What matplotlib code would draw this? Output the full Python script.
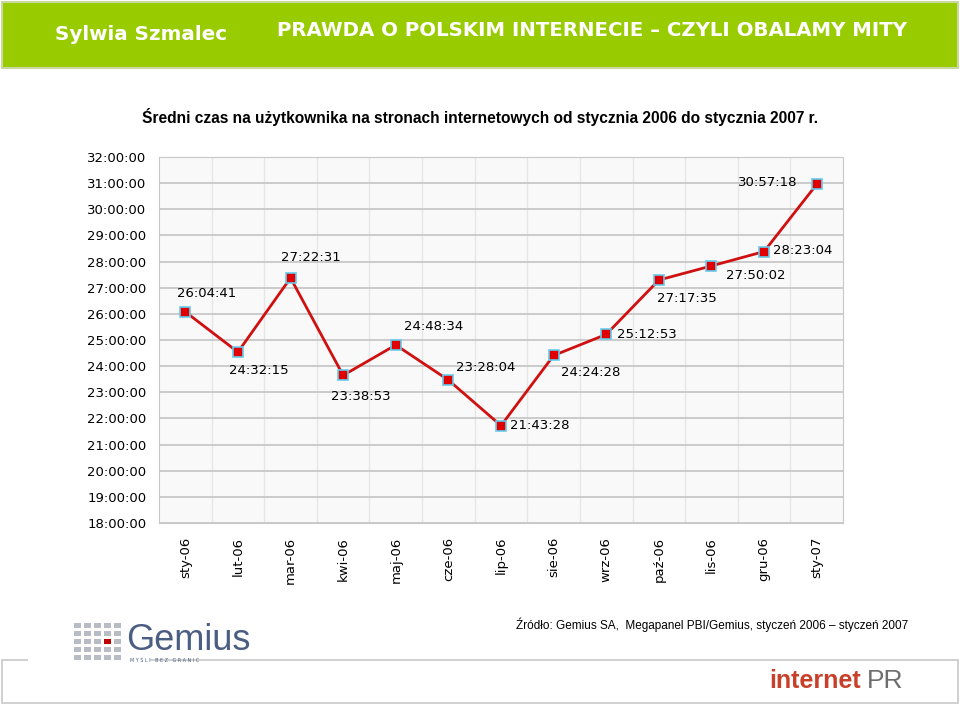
import matplotlib
matplotlib.use('Agg')
import matplotlib.pyplot as plt
from matplotlib.patches import Rectangle

months = ['sty-06', 'lut-06', 'mar-06', 'kwi-06', 'maj-06', 'cze-06', 'lip-06',
          'sie-06', 'wrz-06', 'paź-06', 'lis-06', 'gru-06', 'sty-07']
times = ['26:04:41', '24:32:15', '27:22:31', '23:38:53', '24:48:34', '23:28:04',
         '21:43:28', '24:24:28', '25:12:53', '27:17:35', '27:50:02', '28:23:04',
         '30:57:18']
y_ticks = list(range(18, 33))


def to_hours(s):
    h, m, sec = (int(p) for p in s.split(':'))
    return h + m / 60 + sec / 3600


hours = [to_hours(t) for t in times]
# label offsets (points) relative to each marker
offsets = [(15, 13), (15, -13), (15, 15), (13, -15), (27, 13), (27, 9),
           (28, 0), (27, -12), (29, 0), (20, -13), (32, -7), (28, 1), (-35, 1)]

fig = plt.figure(figsize=(9.6, 7.05), dpi=100)
fig.patch.set_facecolor('white')

# header band
fig.patches.append(Rectangle((0.002, 1 - 68 / 705), 0.996, 66 / 705,
                             transform=fig.transFigure, facecolor='#99cc00',
                             edgecolor='#c8d8a0', lw=1.5))
fig.text(55 / 960, 1 - 35 / 705, 'Sylwia Szmalec', color='white', fontsize=14.3,
         fontweight='bold', family='DejaVu Sans', va='center', ha='left')
fig.text(277 / 960, 1 - 30 / 705, 'PRAWDA O POLSKIM INTERNECIE – CZYLI OBALAMY MITY',
         color='white', fontsize=14.2, fontweight='bold', family='DejaVu Sans',
         va='center', ha='left')

fig.text(480 / 960, 1 - 117 / 705,
         'Średni czas na użytkownika na stronach internetowych od stycznia 2006 do stycznia 2007 r.',
         fontsize=11.2, fontweight='bold', family='Liberation Sans', ha='center', va='center')

ax = fig.add_axes([159 / 960, 1 - 523 / 705, 684 / 960, 366 / 705])
ax.set_facecolor('#f9f9f9')
x = list(range(len(months)))
ax.plot(x, hours, color='#d01010', lw=2, marker='s', markersize=7,
        markerfacecolor='#e00000', markeredgecolor='#66ccee', markeredgewidth=1.2,
        zorder=3)
for i, (xi, yi) in enumerate(zip(x, hours)):
    ax.annotate(times[i], (xi, yi), xytext=offsets[i], textcoords='offset points',
                ha='center', va='center', fontsize=9.5, family='DejaVu Sans')

ax.set_xlim(-0.5, len(months) - 0.5)
ax.set_ylim(18, 32)
ax.set_yticks(y_ticks)
ax.set_yticklabels([f'{h}:00:00' for h in y_ticks], fontsize=9.5, family='DejaVu Sans')
ax.set_xticks(x)
ax.set_xticklabels(months, rotation=90, fontsize=9.5, family='DejaVu Sans')
ax.tick_params(length=0, axis='y', pad=9)
ax.tick_params(length=0, axis='x', pad=10)
ax.set_xticks([i + 0.5 for i in x[:-1]], minor=True)
ax.tick_params(which='minor', length=0)
ax.grid(axis='y', which='major', color='#c4c4c4', lw=1.2)
ax.grid(axis='x', which='minor', color='#e6e6e6', lw=1)
ax.set_axisbelow(True)
for sp in ax.spines.values():
    sp.set_color('#c8c8c8')

# source
fig.text(908 / 960, 1 - 625 / 705,
         'Źródło: Gemius SA,  Megapanel PBI/Gemius, styczeń 2006 – styczeń 2007',
         fontsize=8.5, family='Liberation Sans', ha='right', va='center')

# footer box
fig.patches.append(Rectangle((2 / 960, 2 / 705), 956 / 960, 43 / 705,
                             transform=fig.transFigure, facecolor='none',
                             edgecolor='#c8c8c8', lw=1.2))
fig.patches.append(Rectangle((28 / 960, 40 / 705), 122 / 960, 10 / 705,
                             transform=fig.transFigure, facecolor='white',
                             edgecolor='none'))

# gemius logo
for c in range(5):
    for r in range(5):
        col = '#c00000' if (c == 3 and r == 2) else '#b8bcc4'
        fig.patches.append(Rectangle(((74 + c * 10) / 960, (45 + r * 8) / 705),
                                     7 / 960, 5 / 705, transform=fig.transFigure,
                                     facecolor=col, edgecolor='none'))
fig.text(126 / 960, 1 - 640 / 705, 'Gemius', fontsize=26, color='#4a5d82',
         family='Liberation Sans', ha='left', va='center')
fig.text(130 / 960, 1 - 660 / 705, 'M Y Ś L I   B E Z   G R A N I C', fontsize=3.5,
         color='#4a5d82', family='DejaVu Sans', ha='left', va='center')

fig.text(769 / 960, 1 - 681 / 705, 'internet', fontsize=18, color='#c8402a',
         fontweight='bold', family='Liberation Sans', ha='left', va='center')
fig.text(867 / 960, 1 - 681 / 705, 'PR', fontsize=19, color='#6e6e6e',
         family='Liberation Sans', ha='left', va='center')

fig.savefig('out.png', dpi=100)
